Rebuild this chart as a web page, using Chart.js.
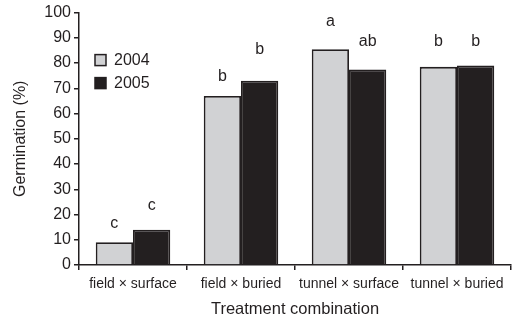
<!DOCTYPE html>
<html>
<head>
<meta charset="utf-8">
<script src="https://cdn.jsdelivr.net/npm/chart.js@4.4.1/dist/chart.umd.min.js"></script>
<style>
    html, body { margin: 0; padding: 0; background: #ffffff; }
    #wrap { width: 518px; height: 324px; }
</style>
</head>
<body>
<div id="wrap"><canvas id="germ" width="518" height="324"></canvas></div>
<script>
const categories = ["field \u00d7 surface", "field \u00d7 buried", "tunnel \u00d7 surface", "tunnel \u00d7 buried"];
const germ2004 = [9, 67, 85.5, 78.5];
const germ2005 = [14, 73, 77.5, 79];
const letters2004 = ["c", "b", "a", "b"];
const letters2005 = ["c", "b", "ab", "b"];
// height (in %) where each significance letter sits
const letterAt2004 = [16.5, 74.5, 96.5, 88.5];
const letterAt2005 = [23.5, 85.5, 88.5, 88.5];
const yTicks = [0, 10, 20, 30, 40, 50, 60, 70, 80, 90, 100];

const INK = "#231f20";
const GREY = "#d1d2d4";
const FONT = "'Liberation Sans', Arial, sans-serif";

// letters above the bars
const letterPlugin = {
    id: "letters",
    afterDatasetsDraw: function (chart) {
        const ctx = chart.ctx;
        const y = chart.scales.y;
        const sets = [[letters2004, letterAt2004], [letters2005, letterAt2005]];
        ctx.save();
        ctx.fillStyle = INK;
        ctx.font = "16px " + FONT;
        ctx.textAlign = "center";
        ctx.textBaseline = "middle";
        sets.forEach(function (s, di) {
            chart.getDatasetMeta(di).data.forEach(function (bar, i) {
                ctx.fillText(s[0][i], bar.x, y.getPixelForValue(s[1][i]));
            });
        });
        ctx.restore();
    }
};

// legend drawn inside the plot, top-left
const boxLegend = {
    id: "boxLegend",
    afterDraw: function (chart) {
        const ctx = chart.ctx;
        const area = chart.chartArea;
        ctx.save();
        ctx.font = "16px " + FONT;
        ctx.textBaseline = "middle";
        chart.data.datasets.forEach(function (ds, i) {
            const bx = area.left + 16;
            const by = area.top + 42 + i * 23;
            ctx.fillStyle = ds.backgroundColor;
            ctx.fillRect(bx, by, 11, 11);
            ctx.strokeStyle = INK;
            ctx.lineWidth = 1.5;
            ctx.strokeRect(bx, by, 11, 11);
            ctx.fillStyle = INK;
            ctx.fillText(ds.label, bx + 19, by + 6);
        });
        ctx.restore();
    }
};

new Chart(document.getElementById("germ"), {
    type: "bar",
    data: {
        labels: categories,
        datasets: [
            { label: "2004", data: germ2004, backgroundColor: GREY, borderColor: INK, borderWidth: 1.8 },
            { label: "2005", data: germ2005, backgroundColor: INK, borderColor: INK, borderWidth: 1.8 }
        ]
    },
    options: {
        responsive: false,
        animation: false,
        layout: { padding: { top: 11, right: 7, left: 0, bottom: 0 } },
        categoryPercentage: 0.69,
        barPercentage: 1.0,
        plugins: {
            legend: { display: false },
            tooltip: { enabled: false }
        },
        scales: {
            x: {
                offset: true,
                afterFit: function (s) { s.height = 59; },
                grid: {
                    offset: true,
                    drawOnChartArea: false,
                    color: INK,
                    lineWidth: 1.5,
                    tickLength: 5
                },
                border: { color: INK, width: 1.5 },
                ticks: { color: INK, font: { family: FONT, size: 14 }, padding: 6, maxRotation: 0 },
                title: {
                    display: true,
                    text: "Treatment combination",
                    color: INK,
                    font: { family: FONT, size: 16.5 },
                    padding: { top: 4, bottom: 5 }
                }
            },
            y: {
                min: 0,
                max: 100,
                afterFit: function (s) { s.width = 79; },
                afterBuildTicks: function (s) {
                    s.ticks = yTicks.map(function (v) { return { value: v }; });
                },
                grid: {
                    drawOnChartArea: false,
                    color: INK,
                    lineWidth: 1.5,
                    tickLength: 5
                },
                border: { color: INK, width: 1.5 },
                ticks: { color: INK, font: { family: FONT, size: 16 }, padding: 3 },
                title: {
                    display: true,
                    text: "Germination (%)",
                    color: INK,
                    font: { family: FONT, size: 16 },
                    padding: { top: 11, bottom: 0 }
                }
            }
        }
    },
    plugins: [letterPlugin, boxLegend]
});
</script>
</body>
</html>
